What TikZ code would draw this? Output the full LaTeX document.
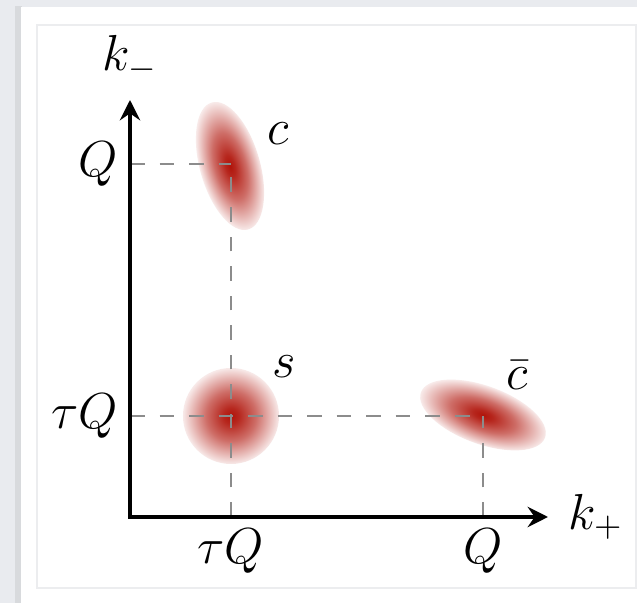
\documentclass[tikz,border=0pt]{standalone}
\usepackage{xcolor}
\usepackage{tikz}
\usetikzlibrary{arrows.meta,positioning}

\definecolor{pagegray}{RGB}{233,235,239}
\definecolor{cardshade}{RGB}{216,218,221}
\definecolor{framegray}{RGB}{236,237,239}
\definecolor{blobred}{RGB}{176,20,10}
\colorlet{blobmid}{blobred!62!white}
\colorlet{blobedge}{blobred!9!white}
\pgfdeclareradialshading{blobshading}{\pgfpoint{0bp}{0bp}}{%
  color(0bp)=(blobred); color(4bp)=(blobred!92!white);
  color(13bp)=(blobmid); color(25bp)=(blobedge); color(50bp)=(white)}

\begin{document}
\begin{tikzpicture}[
  every node/.style={font=\Large},
  axis/.style={line width=0.9pt,
               {Stealth[length=5.8pt,width=5.8pt,inset=2pt]}-{Stealth[length=5.8pt,width=5.8pt,inset=2pt]}},
  guide/.style={black!45,line width=0.6pt,dash pattern=on 4.2pt off 4.2pt},
  blob/.style={shading=blobshading}
]
% page and card
\fill[pagegray] (0,0) rectangle (6.37,6.03);
\fill[cardshade] (0.15,0) rectangle (0.22,5.97);
\fill[white] (0.21,0) rectangle (6.37,5.96);
\draw[framegray,line width=0.4pt] (0.37,0.15) rectangle (6.36,5.78);
\useasboundingbox (0,0) rectangle (6.37,6.03);

\coordinate (O) at (1.30,0.86);
\coordinate (kmtip) at (1.30,5.03);
\coordinate (kptip) at (5.48,0.86);
\coordinate (c) at (2.31,4.39);
\coordinate (s) at (2.31,1.87);
\coordinate (cbar) at (4.83,1.87);
\coordinate (xtau) at (c |- O);
\coordinate (xQ) at (cbar |- O);
\coordinate (yQ) at (c -| O);
\coordinate (ytau) at (s -| O);

% blobs
\begin{scope}[transform canvas={shift={(2.30,4.37)},rotate=106}]
  \shade[blob] (0,0) ellipse (0.66 and 0.30);
\end{scope}
\shade[blob] (s) circle (0.48);
\begin{scope}[transform canvas={shift={(4.83,1.88)},rotate=-20}]
  \shade[blob] (0,0) ellipse (0.66 and 0.29);
\end{scope}

% guides
\draw[guide] (xtau) -- (c);
\draw[guide] (yQ) -- (c);
\draw[guide] (ytau) -- (cbar);
\draw[guide] (xQ) -- (cbar);

% axes
\draw[axis] (kmtip) |- (kptip);
\node[anchor=base] (kminus) at (1.30,5.32) {$k_-$};
\node[right=0.08cm of kptip] (kplus) {$k_+$};

\node[left] (lQ) at (yQ) {$Q$};
\node[left] (ltau) at (ytau) {$\tau Q$};
\node[below] (btau) at (xtau) {$\tau Q$};
\node[below] (bQ) at (xQ) {$Q$};

\node[anchor=base] (lc) at (2.78,4.58) {$c$};
\node[anchor=base] (ls) at (2.84,2.25) {$s$};
\node[anchor=base] (lcbar) at (5.17,2.13) {$\bar c$};
\end{tikzpicture}
\end{document}
